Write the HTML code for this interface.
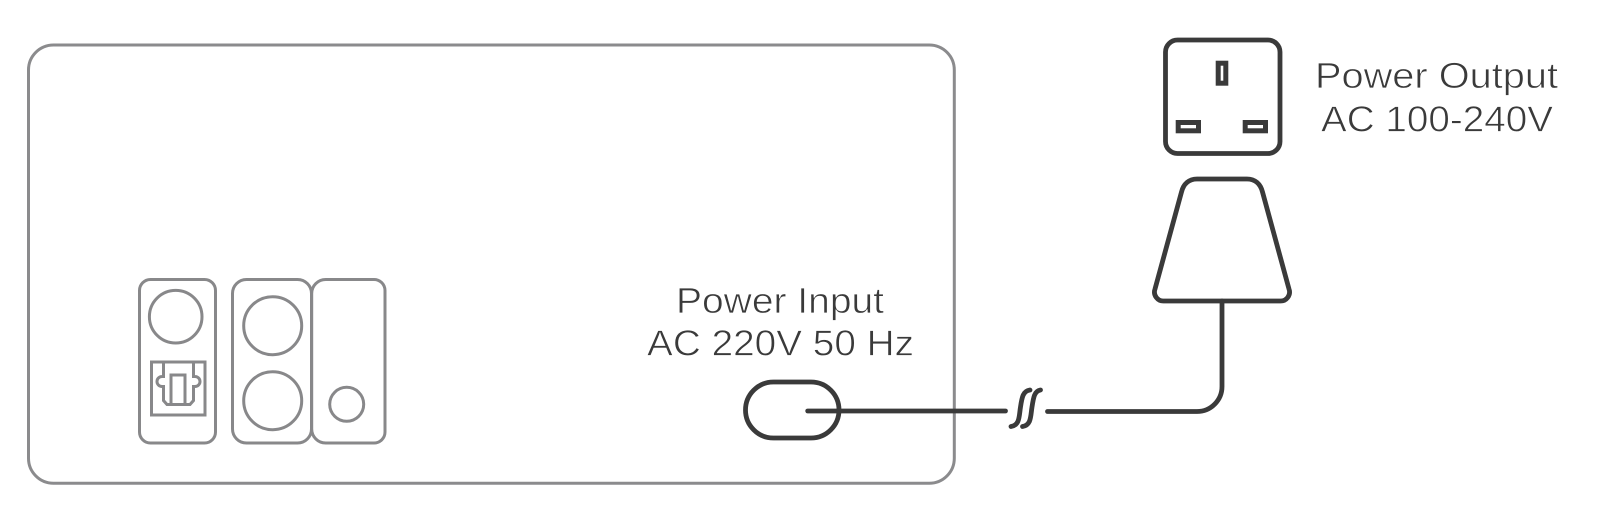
<!DOCTYPE html>
<html>
<head>
<meta charset="utf-8">
<style>
html,body{margin:0;padding:0;background:#fff;width:1600px;height:508px;overflow:hidden}
svg{display:block}
text{font-family:"Liberation Sans",sans-serif;font-size:36.5px;fill:#3a3a3a;stroke:#fff;stroke-width:.7px;paint-order:fill stroke}
</style>
</head>
<body>
<svg width="1600" height="508" viewBox="0 0 1600 508" xmlns="http://www.w3.org/2000/svg">
<g fill="none" stroke="#8b8b8d" stroke-width="3">
<rect x="28.5" y="45" width="925.8" height="438.3" rx="25" ry="25"/>
</g>
<g fill="none" stroke="#88888a" stroke-width="3">
<rect x="139.5" y="279.500" width="76" height="163.500" rx="11"/>
<circle cx="175.700" cy="316.700" r="26.300"/>
<rect x="151.500" y="362" width="53.500" height="53"/>
<path d="M163.500 362V376.500H162a5 5 0 0 0 0 10H163.500V400.500L167 404.500H190L193.500 400.500V386.500H195a5 5 0 0 0 0-10H193.500V362"/>
<rect x="171" y="375" width="14" height="29.500"/>
<rect x="232.500" y="279.500" width="79" height="163.500" rx="14"/>
<circle cx="272.700" cy="325.700" r="29"/>
<circle cx="272.700" cy="400.700" r="29"/>
<path d="M311.700 293.500A14 14 0 0 1 325.700 279.500H374A11 11 0 0 1 385 290.500V432A11 11 0 0 1 374 443H325.700A14 14 0 0 1 311.700 429Z"/>
<circle cx="346.700" cy="404.300" r="17"/>
</g>
<g fill="none" stroke="#3a3a3a" stroke-width="4.800" stroke-linecap="round" stroke-linejoin="round">
<rect x="745.500" y="382" width="93.500" height="56" rx="28" ry="28"/>
<path d="M807.700 411H1005.500"/>
<path d="M1011 426.500C1020 425 1019 416 1020.500 407C1022 397 1023 391 1030 390"/>
<path d="M1022.500 426.500C1031.500 425 1030.500 416 1032 407C1033.500 397 1034.500 391 1040.500 390"/>
<path d="M1047.500 411.500H1197A25 25 0 0 0 1222 386.500V301"/>
<rect x="1165.500" y="40" width="114.500" height="113.500" rx="12"/>
<path d="M1197 179H1247C1255 179 1260.500 184 1262.500 192L1289 289A9 9 0 0 1 1280 301H1164A9 9 0 0 1 1155 289L1181.500 192C1183.500 184 1189 179 1197 179Z"/>
</g>
<g fill="none" stroke="#3a3a3a" stroke-width="5">
<rect x="1218.200" y="63.200" width="7.600" height="20"/>
<rect x="1178.200" y="122.500" width="20.300" height="8.300"/>
<rect x="1245.200" y="122.500" width="20.300" height="8.300"/>
</g>
<text x="676" y="313" textLength="208" lengthAdjust="spacingAndGlyphs">Power Input</text>
<text x="647" y="355.500" textLength="267" lengthAdjust="spacingAndGlyphs">AC 220V 50 Hz</text>
<text x="1315" y="88" textLength="243" lengthAdjust="spacingAndGlyphs">Power Output</text>
<text x="1321" y="131.500" textLength="232" lengthAdjust="spacingAndGlyphs">AC 100-240V</text>
</svg>
</body>
</html>
